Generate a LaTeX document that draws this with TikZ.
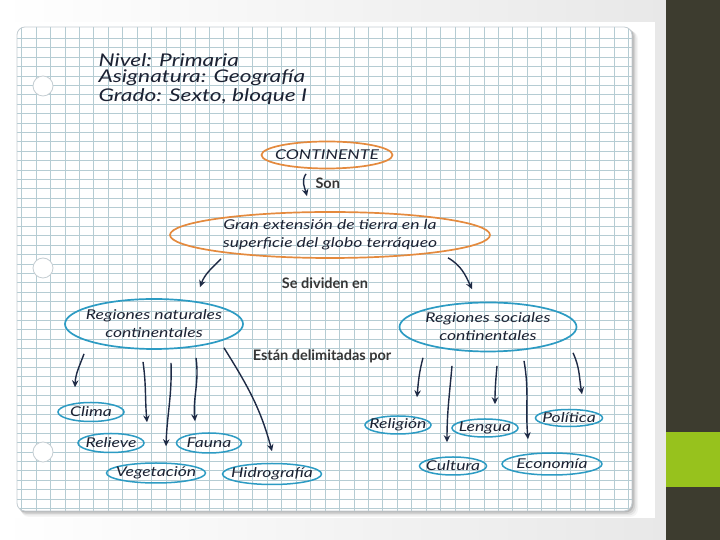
\documentclass[tikz,border=0pt]{standalone}
\usepackage{fontspec}
\setmainfont{Lato}
\newfontfamily\handfont[FakeStretch=1.3]{Lato}
\usepackage{tikz}
\usetikzlibrary{
  arrows.meta,
  shapes.geometric,
}
\definecolor{ink}{HTML}{1C2233}
\definecolor{navy}{HTML}{1E2A45}
\definecolor{orng}{HTML}{E48A3E}
\definecolor{sky}{HTML}{2C9BC3}
\definecolor{gridblue}{HTML}{B5CCD3}
\definecolor{edge}{HTML}{C4CDD2}
\definecolor{darkbar}{HTML}{3D3C2F}
\definecolor{lime}{HTML}{97C21D}
\definecolor{caption}{HTML}{363636}
\tikzset{
  >=Stealth,
  gridline/.style={draw=gridblue, line width=0.7pt},
  hole/.style={fill=white, draw=edge, line width=0.8pt},
  heading/.style={font=\handfont\itshape\fontsize{17.5}{20}\selectfont, text=ink, anchor=west},
  bubble/.style={
    ellipse,
    draw=#1,
    line width=1.7pt,
    inner xsep=-25pt,
    inner ysep=-4pt,
    align=center,
    text=ink,
    font=\handfont\itshape\fontsize{13.5}{18}\selectfont,
  },
  leaf/.style={bubble=sky, line width=1.5pt},
  linkword/.style={font=\bfseries\fontsize{14.5}{17}\selectfont, text=caption},
  conn/.style={-{Stealth[length=7pt,width=6.5pt]}, draw=navy, line width=1.4pt},
}

\begin{document}
\begin{tikzpicture}[x=1pt,y=1pt]
  \useasboundingbox (0,0) rectangle (720,540);

  % slide background
  \shade[left color=white, right color=black!9] (0,0) rectangle (666,540);
  \fill[white] (0,22) rectangle (655,518);
  \fill[darkbar] (666,0) rectangle (720,540);
  \fill[lime] (666,53) rectangle (720,108);

  % paper sheet
  \foreach \s/\o in {4/0.04, 3/0.06, 2/0.09, 1/0.12}
    \fill[black, opacity=\o, rounded corners=8] (17+\s,29-1.5*\s) rectangle (632+1.5*\s,513-\s);
  \begin{scope}
    \clip[rounded corners=8] (17,29) rectangle (632,513);
    \fill[white] (17,29) rectangle (632,513);
    \foreach \i in {0,...,42}
      \draw[gridline] ({21.5+14.45*\i},29) -- ++(0,484);
    \foreach \i in {0,...,50}
      \draw[gridline] (17,{501.7-9.4*\i}) -- ++(615,0);
  \end{scope}
  \draw[edge, line width=0.8pt, rounded corners=8] (17,29) rectangle (632,513);
  \foreach \y in {454,272,88}
    \draw[hole] (43,\y) circle (10);

  % heading
  \node[heading] (nivel) at (95,480) {Nivel: Primaria};
  \node[heading] (asig) at (95,462) {Asignatura: Geografía};
  \node[heading] (grado) at (95,443) {Grado: Sexto, bloque I};

  % main concepts
  \node[bubble=orng, minimum width=131, minimum height=27] (cont) at (327,385) {CONTINENTE};
  \node[bubble=orng, minimum width=320, minimum height=46] (gran) at (330,305) {Gran extensión de tierra en la\\superficie del globo terráqueo};
  \node[bubble=sky, minimum width=178, minimum height=50] (nat) at (154,216) {Regiones naturales\\continentales};
  \node[bubble=sky, minimum width=177, minimum height=49] (soc) at (488,213) {Regiones sociales\\continentales};

  % natural regions
  \node[leaf, minimum width=66, minimum height=19] (clima) at (91,128) {Clima};
  \node[leaf, minimum width=66, minimum height=19] (relieve) at (111,97) {Relieve};
  \node[leaf, minimum width=65, minimum height=20] (fauna) at (209,97) {Fauna};
  \node[leaf, minimum width=99, minimum height=20] (veget) at (156,67) {Vegetación};
  \node[leaf, minimum width=99, minimum height=21] (hidro) at (272,66) {Hidrografía};

  % social regions
  \node[leaf, minimum width=66, minimum height=18] (relig) at (398,115) {Religión};
  \node[leaf, minimum width=66, minimum height=18] (lengua) at (485,112) {Lengua};
  \node[leaf, minimum width=67, minimum height=17] (polit) at (569,122) {Política};
  \node[leaf, minimum width=67, minimum height=18] (cultura) at (453,74) {Cultura};
  \node[leaf, minimum width=100, minimum height=22] (econ) at (552,76) {Economía};

  % linking words
  \node[linkword, anchor=west] (son) at (312,357) {Son};
  \node[linkword] (divide) at (325,257) {Se dividen en};
  \node[linkword] (limits) at (322,184) {Están delimitadas por};

  % connectors
  \draw[conn] ([shift={(-21,-4.5)}]cont.south) to[out=235,in=105] ([shift={(-23,15)}]gran.north);
  \draw[conn] ([shift={(-109,0)}]gran.south) to[out=225,in=70] ([shift={(46,11)}]nat.north);
  \draw[conn] ([shift={(118,1)}]gran.south) to[out=-30,in=115] ([shift={(-16,12.5)}]soc.north);

  \draw[conn] ([shift={(-70,-4)}]nat.south) to[out=250,in=88] ([shift={(-16,14.5)}]clima.north);
  \draw[conn] ([shift={(-11,-12)}]nat.south) to[out=-82,in=95] ([shift={(36,10.5)}]relieve.north);
  \draw[conn] ([shift={(17,-13)}]nat.south) to[out=-88,in=88] ([shift={(10,16)}]veget.north);
  \draw[conn] ([shift={(42,-8)}]nat.south) to[out=-82,in=95] ([shift={(-14,11)}]fauna.north);
  \draw[conn] ([shift={(70,2)}]nat.south) to[out=-58,in=105] ([shift={(0,11.5)}]hidro.north);

  \draw[conn] ([shift={(-65,-5.5)}]soc.south) to[out=255,in=85] ([shift={(19,18)}]relig.north);
  \draw[conn] ([shift={(-36,-13.5)}]soc.south) to[out=265,in=90] ([shift={(-6,14)}]cultura.north);
  \draw[conn] ([shift={(9,-13.5)}]soc.south) to[out=-95,in=90] ([shift={(10,14)}]lengua.north);
  \draw[conn] ([shift={(36,-8.5)}]soc.south) to[out=-80,in=95] ([shift={(-24,13)}]econ.north);
  \draw[conn] ([shift={(85,-0.5)}]soc.south) to[out=-65,in=100] ([shift={(13,14.5)}]polit.north);
\end{tikzpicture}
\end{document}
